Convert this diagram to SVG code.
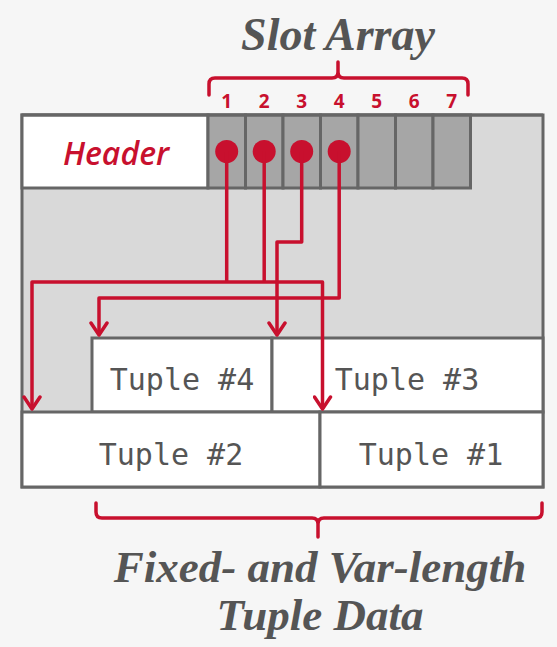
<svg xmlns="http://www.w3.org/2000/svg" width="557" height="647" viewBox="0 0 557 647">
<defs>
<style>
.box{stroke:#666;stroke-width:3;}
.cell{fill:#a6a6a6;stroke:#666;stroke-width:3;}
.tup{fill:#fff;stroke:#666;stroke-width:3;}
.tt{font-family:"DejaVu Sans Mono",monospace;font-size:30px;fill:#555;text-anchor:middle;}
.num{font-family:"Open Sans","Liberation Sans",sans-serif;font-weight:bold;font-size:19px;fill:#c8102e;text-anchor:middle;}
.ttl{font-family:"Liberation Serif",serif;font-weight:bold;font-style:italic;fill:#555;text-anchor:middle;}
.wire{fill:none;stroke:#c8102e;stroke-width:3.5;stroke-linejoin:round;}
.brace{fill:none;stroke:#c8102e;stroke-width:3.5;stroke-linejoin:round;stroke-linecap:round;}
.dot{fill:#c8102e;}
</style>
<marker id="arr" viewBox="0 0 16 20" refX="14" refY="10" markerWidth="16" markerHeight="20" markerUnits="userSpaceOnUse" orient="auto-start-reverse">
<path d="M2,2 L14,10 L2,18" fill="none" stroke="#c8102e" stroke-width="3.5" stroke-linecap="round" stroke-linejoin="round"/>
</marker>
</defs>
<rect width="557" height="647" fill="#f6f6f6"/>
<g id="page">
<rect x="22" y="115" width="521" height="372" fill="#d9d9d9" class="box"/>
</g>
<g id="header">
<rect x="22" y="115" width="186" height="73" fill="#fff" class="box"/>
<text x="116" y="165" font-family="'Open Sans','Liberation Sans',sans-serif" font-weight="600" font-style="italic" font-size="32" fill="#c8102e" text-anchor="middle">Header</text>
</g>
<g id="slot-array">
<rect x="208" y="115" width="37.5" height="73" class="cell"/>
<rect x="245.5" y="115" width="37.5" height="73" class="cell"/>
<rect x="283" y="115" width="37.5" height="73" class="cell"/>
<rect x="320.5" y="115" width="37.5" height="73" class="cell"/>
<rect x="358" y="115" width="37.5" height="73" class="cell"/>
<rect x="395.5" y="115" width="37.5" height="73" class="cell"/>
<rect x="433" y="115" width="37.5" height="73" class="cell"/>
<line x1="22" y1="115" x2="543" y2="115" stroke="#666" stroke-width="3"/>
<text class="num" x="226.7" y="108">1</text>
<text class="num" x="264.2" y="108">2</text>
<text class="num" x="301.7" y="108">3</text>
<text class="num" x="339.2" y="108">4</text>
<text class="num" x="376.7" y="108">5</text>
<text class="num" x="414.2" y="108">6</text>
<text class="num" x="451.7" y="108">7</text>
<circle class="dot" cx="226.7" cy="151.5" r="11.5"/>
<circle class="dot" cx="264.2" cy="151.5" r="11.5"/>
<circle class="dot" cx="301.7" cy="151.5" r="11.5"/>
<circle class="dot" cx="339.2" cy="151.5" r="11.5"/>
</g>
<g id="tuple4">
<rect x="92" y="338" width="180" height="74" class="tup"/>
<text class="tt" x="182" y="390">Tuple #4</text>
</g>
<g id="tuple3">
<rect x="272" y="338" width="271" height="74" class="tup"/>
<text class="tt" x="407" y="390">Tuple #3</text>
</g>
<g id="tuple2">
<rect x="22" y="412" width="298" height="75" class="tup"/>
<text class="tt" x="171" y="465">Tuple #2</text>
</g>
<g id="tuple1">
<rect x="320" y="412" width="223" height="75" class="tup"/>
<text class="tt" x="431" y="465">Tuple #1</text>
</g>
<g id="connectors">
<path class="wire" d="M226.7,151.5 V282"/>
<path class="wire" d="M264.2,151.5 V282"/>
<path class="wire" d="M32,409 V282 H322.5 V409" marker-end="url(#arr)" marker-start="url(#arr)"/>
<path class="wire" d="M301.7,151.5 V242 H277 V335" marker-end="url(#arr)"/>
<path class="wire" d="M339.2,151.5 V298 H99 V335" marker-end="url(#arr)"/>
</g>
<g id="labels">
<path class="brace" d="M209,95 V84 Q209,78 215,78 H332 Q338,78 338,72 V62 M338,72 Q338,78 344,78 H462 Q468,78 468,84 V95"/>
<text class="ttl" x="338" y="50" font-size="46">Slot Array</text>
<path class="brace" d="M96,503 V512 Q96,518 102,518 H312 Q318,518 318,524 V537 M318,524 Q318,518 324,518 H536 Q542,518 542,512 V503"/>
<text class="ttl" x="320" y="582" font-size="45">Fixed- and Var-length</text>
<text class="ttl" x="320" y="630" font-size="45">Tuple Data</text>
</g>
</svg>
